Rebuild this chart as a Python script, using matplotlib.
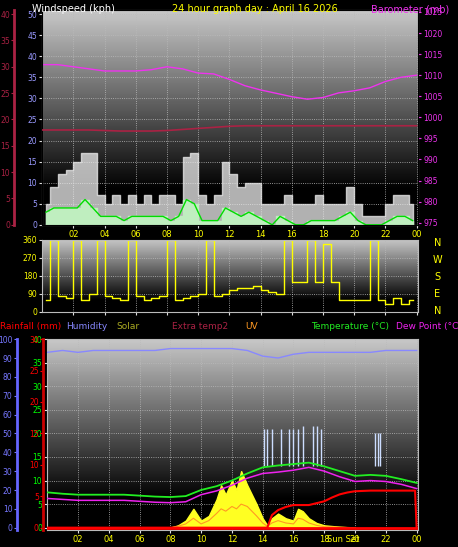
import matplotlib.pyplot as plt
import numpy as np

# half-hourly wind data (kph)
hrs48 = np.arange(0.25, 24.25, 0.5)
gust = [5, 9, 12, 13, 15, 17, 17, 7, 5, 7, 5, 7, 5, 7, 5, 7, 7, 5, 16, 17, 7, 5, 7, 15,
        12, 9, 10, 10, 5, 5, 5, 7, 5, 5, 5, 7, 5, 5, 5, 9, 5, 2, 2, 2, 5, 7, 7, 5]
wind = [3, 4, 4, 4, 4, 6, 4, 2, 2, 2, 1, 2, 2, 2, 2, 2, 1, 2, 6, 5, 1, 1, 1, 4,
        3, 2, 3, 2, 1, 0, 2, 1, 0, 0, 1, 1, 1, 1, 2, 3, 1, 0, 0, 0, 1, 2, 2, 1]

# hourly barometer (mb) and extra temp (red scale)
hrs = np.arange(0, 25)
baro = [1012.5, 1012.5, 1012, 1011.5, 1011, 1011, 1011, 1011.3, 1012, 1011.5, 1010.5, 1010.3,
        1009, 1007.5, 1006.5, 1005.7, 1004.9, 1004.3, 1004.7, 1005.8, 1006.3, 1007, 1008.5, 1009.5, 1010]
extra = [18, 18, 18, 18, 17.9, 17.8, 17.8, 17.8, 17.9, 18.1, 18.3, 18.5, 18.7, 18.8, 18.8,
         18.8, 18.8, 18.8, 18.8, 18.8, 18.8, 18.8, 18.8, 18.8, 18.8]

# wind direction (deg), half-hourly
wdir = [60, 360, 80, 70, 360, 60, 90, 360, 80, 70, 60, 360, 80, 60, 70, 80, 360, 60, 70, 80,
        90, 360, 80, 90, 110, 120, 120, 130, 110, 100, 90, 360, 150, 150, 360, 150, 340, 150, 60,
        60, 60, 60, 360, 60, 40, 70, 40, 60]

# bottom panel, hourly
humidity = [93, 94, 93, 94, 94, 94, 94, 94, 95, 95, 95, 95, 95, 94, 91, 90, 92, 93, 93, 93, 93, 93, 94, 94, 94]
temp = [7.5, 7.2, 7, 7, 7, 7, 6.8, 6.6, 6.5, 6.7, 8, 8.8, 10, 11.5, 12.8, 13.2, 13.5, 13.8, 13, 12, 11, 11.2, 11, 10.3, 9.5]
dew = [6.2, 6, 5.8, 5.8, 5.8, 5.8, 5.6, 5.4, 5.3, 5.5, 7, 7.8, 9, 10.5, 11.5, 11.8, 12.2, 12.8, 12, 10.8, 9.8, 10, 9.8, 9.2, 8.3]
rain_h = [0, 14.3, 14.6, 15, 15.5, 16, 17, 18, 18.5, 19, 19.5, 20, 21, 23.9, 24]
rain = [0, 0, 2.0, 2.8, 3.3, 3.6, 3.6, 4.2, 4.8, 5.3, 5.6, 5.8, 5.9, 5.9, 0]
solar_h = [8, 8.5, 9, 9.5, 10, 10.5, 11, 11.3, 11.6, 12, 12.3, 12.6, 13, 13.3, 13.6, 14, 14.3, 14.6,
           15, 15.5, 16, 16.3, 16.6, 17, 17.5, 18, 19, 20]
solar = [0, 0.5, 1.5, 4, 1.5, 2.5, 6, 9, 7, 10, 8, 12, 9, 7, 5, 2, 0.5, 2, 3, 2, 1.5, 4, 3.5, 2, 1, 0.5, 0.2, 0]
uv = [0, 0.3, 0.8, 2, 0.8, 1.5, 3, 4, 3.5, 4.5, 4, 5, 4.5, 3.5, 2.5, 1, 0.3, 1, 1.5, 1, 0.8, 2, 1.8, 1, 0.5, 0.2, 0.1, 0]
chill_h = [14.1, 14.3, 14.6, 15.2, 15.7, 16.0, 16.3, 16.6, 17.3, 17.5, 17.8, 21.3, 21.5, 21.6]
chill = [21, 21, 21, 21, 21, 21, 21, 21.5, 21.5, 21.5, 21, 20, 20, 20]

xticks = list(range(2, 25, 2))
xlabels = ['02', '04', '06', '08', '10', '12', '14', '16', '18', '20', '22', '00']

fig = plt.figure(figsize=(4.58, 5.47), dpi=100, facecolor='black')
grad = np.clip(np.linspace(0.78, -0.15, 100), 0, 1).reshape(-1, 1)


def style(ax, ylim, yt):
    ax.set_facecolor('black')
    ax.imshow(grad, cmap='gray', vmin=0, vmax=1, aspect='auto',
              extent=(0, 24.1, ylim[0], ylim[1]), zorder=0)
    ax.set_xlim(0, 24.1)
    ax.set_ylim(*ylim)
    ax.set_yticks(yt)
    ax.set_xticks(xticks)
    ax.grid(color='#bbbbbb', ls=':', lw=0.6)
    for s in ax.spines.values():
        s.set_color('#bbbbbb')
    ax.tick_params(colors='#dddddd', labelsize=6, length=2, pad=1.5)
    ax.tick_params(axis='x', labelcolor='yellow')


def left_axis(ax, out, color):
    a = ax.twinx()
    a.yaxis.tick_left()
    a.spines['left'].set_visible(True)
    a.spines['left'].set_position(('outward', out))
    a.spines['left'].set_color(color)
    a.spines['left'].set_linewidth(2)
    for s in ['right', 'top', 'bottom']:
        a.spines[s].set_visible(False)
    return a


# top panel
ax1 = fig.add_axes([0.092, 0.589, 0.821, 0.393])
style(ax1, (0, 51), range(0, 51, 5))
ax1.set_xticklabels(xlabels)
ax1.fill_between(hrs48, gust, step='mid', color='#eeeeee', alpha=0.75, zorder=2)
ax1.fill_between(hrs48, wind, step='mid', color='#bfeebf', zorder=3)
ax1.plot(hrs48, wind, color='#00dd00', lw=1, zorder=4)
ax1.tick_params(axis='y', labelcolor='#9999ff', labelsize=5.5)
axb = ax1.twinx()
axb.set_ylim(974.5, 1025.5)
axb.set_yticks(range(975, 1026, 5))
axb.plot(hrs, baro, color='#ee33ee', lw=1)
axb.tick_params(colors='#ee33ee', labelsize=5.5, length=2, pad=1.5)
axr = left_axis(ax1, 20, '#aa2244')
axr.set_ylim(0, 40.8)
axr.set_yticks(range(0, 41, 5))
axr.tick_params(colors='#aa2244', labelsize=5.5, length=2, pad=1)
axr.plot(hrs, extra, color='#aa2244', lw=1.2)

# middle panel: wind direction
ax2 = fig.add_axes([0.092, 0.430, 0.821, 0.132])
style(ax2, (0, 360), [0, 90, 180, 270, 360])
ax2.set_xticklabels([])
ax2.plot(hrs48, wdir, color='yellow', lw=1, drawstyle='steps-mid')
ax2.tick_params(axis='y', labelcolor='yellow', labelsize=5.5)
for i, c in enumerate('NWSEN'):
    fig.text(0.955, 0.556 - i * 0.031, c, color='yellow', fontsize=7, ha='center', va='center')

# bottom panel
ax3 = fig.add_axes([0.103, 0.031, 0.810, 0.349])
style(ax3, (-0.5, 40), range(0, 41, 5))
ax3.set_xticklabels(xlabels)
ax3.yaxis.tick_right()
ax3.tick_params(axis='y', labelcolor='#00ff00', labelsize=5.5)
ax3.fill_between(solar_h, solar, color='#ffff22', zorder=2)
ax3.plot(solar_h, uv, color='#ff9922', lw=0.8, zorder=3)
ax3.vlines(chill_h, [13] * len(chill_h), chill, color='#ccddff', lw=1, zorder=3)
ax3.plot(hrs, temp, color='#22ee22', lw=1.3, zorder=4)
ax3.plot(hrs, dew, color='#ee22ee', lw=1.1, zorder=4)
ax3.plot(rain_h, [r / 0.75 for r in rain], color='red', lw=1.5, zorder=5)
ax3.axhline(0, color='red', lw=2, zorder=5)
ax3.text(19.2, -1.5, 'Sun Set', color='yellow', fontsize=6, ha='center', va='top')
axh = left_axis(ax3, 22, '#6666ff')
axh.set_ylim(-1.2, 100)
axh.set_yticks(range(0, 101, 10))
axh.tick_params(colors='#7777ff', labelsize=5.5, length=2, pad=1)
axh.plot(hrs, humidity, color='#8888ff', lw=1)
axq = left_axis(ax3, 3, '#cc0000')
axq.set_ylim(-0.375, 30)
axq.set_yticks(range(0, 31, 5))
axq.tick_params(colors='red', labelsize=5.5, length=2, pad=1)

# headers
fig.text(0.07, 0.992, 'Windspeed (kph)', color='white', fontsize=7, va='top')
fig.text(0.375, 0.992, '24 hour graph day : April 16 2026', color='yellow', fontsize=7, va='top')
fig.text(0.81, 0.992, 'Barometer (mb)', color='#ee33ee', fontsize=7, va='top')
hy = 0.412
fig.text(0.0, hy, 'Rainfall (mm)', color='red', fontsize=6.5, va='top')
fig.text(0.145, hy, 'Humidity', color='#8888ff', fontsize=6.5, va='top')
fig.text(0.255, hy, 'Solar', color='#aaaa22', fontsize=6.5, va='top')
fig.text(0.375, hy, 'Extra temp2', color='#aa2244', fontsize=6.5, va='top')
fig.text(0.535, hy, 'UV', color='#ff9922', fontsize=6.5, va='top')
fig.text(0.68, hy, 'Temperature (°C)', color='#22ee22', fontsize=6.5, va='top')
fig.text(0.865, hy, 'Dew Point (°C)', color='#ee22ee', fontsize=6.5, va='top')

fig.savefig('out.png', dpi=100, facecolor='black')
